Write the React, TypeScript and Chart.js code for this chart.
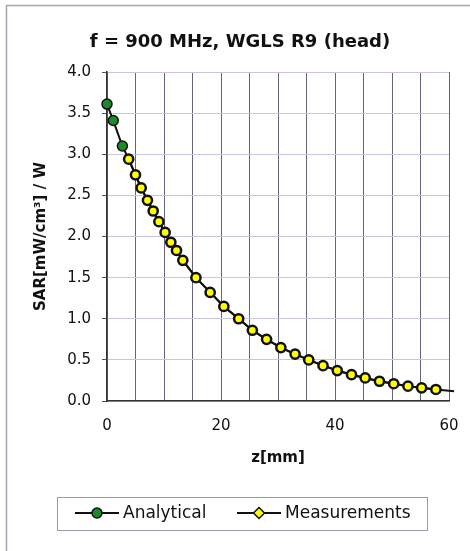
import React, { useEffect, useRef } from "react";
import { Chart, registerables } from "chart.js";

Chart.register(...registerables);

const chartTitle = "f = 900 MHz, WGLS R9 (head)";
const xAxisTitle = "z[mm]";
const yAxisTitle = "SAR[mW/cm³] / W";
const seriesNames = ["Analytical", "Measurements"];
const xTickLabels = [0, 20, 40, 60];

const zAnalytical = [0, 1.1, 2.7, 3.8, 5.0, 6.0, 7.1, 8.1, 9.1, 10.2, 11.2, 12.2, 13.3, 15.6, 18.1, 20.5, 23.1, 25.5, 28.0, 30.5, 33.0, 35.4, 37.9, 40.4, 42.9, 45.3, 47.8, 50.3, 52.8, 55.2, 57.7, 60.9];
const sarAnalytical = [3.61, 3.41, 3.10, 2.94, 2.75, 2.59, 2.44, 2.31, 2.18, 2.05, 1.93, 1.83, 1.71, 1.50, 1.32, 1.15, 1.00, 0.86, 0.75, 0.65, 0.57, 0.50, 0.43, 0.37, 0.32, 0.28, 0.24, 0.21, 0.18, 0.16, 0.14, 0.12];
const analyticalMarked = 3;

const zMeasured = [3.8, 5.0, 6.0, 7.1, 8.1, 9.1, 10.2, 11.2, 12.2, 13.3, 15.6, 18.1, 20.5, 23.1, 25.5, 28.0, 30.5, 33.0, 35.4, 37.9, 40.4, 42.9, 45.3, 47.8, 50.3, 52.8, 55.2, 57.7];
const sarMeasured = [2.94, 2.75, 2.59, 2.44, 2.31, 2.18, 2.05, 1.93, 1.83, 1.71, 1.50, 1.32, 1.15, 1.00, 0.86, 0.75, 0.65, 0.57, 0.50, 0.43, 0.37, 0.32, 0.28, 0.24, 0.21, 0.18, 0.16, 0.14];

const FONT = "'DejaVu Sans', sans-serif";
const GREEN = "#1c8a2c";
const YELLOW = "#ffff00";

const framePlugin = {
  id: "frame",
  beforeDraw(chart: any) {
    const ctx = chart.ctx;
    ctx.save();
    ctx.fillStyle = "#ffffff";
    ctx.fillRect(0, 0, chart.width, chart.height);
    ctx.strokeStyle = "#a4a4b4";
    ctx.lineWidth = 1.5;
    ctx.beginPath();
    ctx.moveTo(6.5, chart.height);
    ctx.lineTo(6.5, 5.5);
    ctx.lineTo(chart.width, 5.5);
    ctx.stroke();
    ctx.fillStyle = "#111";
    ctx.font = "bold 18px " + FONT;
    ctx.textAlign = "center";
    ctx.textBaseline = "middle";
    ctx.fillText(chartTitle, 240, 42);
    ctx.restore();
  },
};

const legendPlugin = {
  id: "boxLegend",
  afterDraw(chart: any) {
    const ctx = chart.ctx;
    const ds = chart.data.datasets;
    ctx.save();
    ctx.strokeStyle = "#9a9aae";
    ctx.lineWidth = 1;
    ctx.strokeRect(57.5, 497.5, 370, 33);
    const y = 513;
    const items = [
      { x0: 75, label: ds[0].label, kind: "circle" },
      { x0: 237, label: ds[1].label, kind: "diamond" },
    ];
    items.forEach((it, i) => {
      ctx.strokeStyle = "#111";
      ctx.lineWidth = 2;
      ctx.beginPath();
      ctx.moveTo(it.x0, y);
      ctx.lineTo(it.x0 + 44, y);
      ctx.stroke();
      const cx = it.x0 + 22;
      ctx.fillStyle = i === 0 ? GREEN : YELLOW;
      ctx.lineWidth = 1.5;
      ctx.beginPath();
      if (it.kind === "circle") {
        ctx.arc(cx, y, 5, 0, Math.PI * 2);
      } else {
        ctx.moveTo(cx, y - 5.5);
        ctx.lineTo(cx + 5.5, y);
        ctx.lineTo(cx, y + 5.5);
        ctx.lineTo(cx - 5.5, y);
        ctx.closePath();
      }
      ctx.fill();
      ctx.stroke();
      ctx.fillStyle = "#111";
      ctx.font = "17px " + FONT;
      ctx.textAlign = "left";
      ctx.textBaseline = "middle";
      ctx.fillText(it.label, it.x0 + 48, y + 1);
    });
    ctx.restore();
  },
};

export default function App() {
  const ref = useRef<HTMLCanvasElement | null>(null);

  useEffect(() => {
    if (!ref.current) return;
    const chart = new Chart(ref.current, {
      type: "scatter",
      data: {
        datasets: [
          {
            label: seriesNames[0],
            data: zAnalytical.map((z, i) => ({ x: z, y: sarAnalytical[i] })),
            showLine: true,
            clip: false,
            borderColor: "#111111",
            borderWidth: 2,
            pointBackgroundColor: GREEN,
            pointBorderColor: "#111111",
            pointBorderWidth: 1.5,
            pointRadius: (c: any) => (c.dataIndex < analyticalMarked ? 5 : 0),
            order: 2,
          },
          {
            label: seriesNames[1],
            data: zMeasured.map((z, i) => ({ x: z, y: sarMeasured[i] })),
            showLine: true,
            clip: false,
            borderColor: "#111111",
            borderWidth: 2,
            pointBackgroundColor: YELLOW,
            pointBorderColor: "#111111",
            pointBorderWidth: 2.5,
            pointRadius: 4.6,
            order: 1,
          },
        ],
      },
      options: {
        responsive: false,
        animation: false,
        layout: { padding: { left: 7, right: 21, top: 72, bottom: 80 } },
        plugins: {
          legend: { display: false },
          tooltip: { enabled: false },
          title: { display: false },
        },
        scales: {
          x: {
            type: "linear",
            min: 0,
            max: 60,
            afterFit: (s: any) => {
              s.height = 70;
              s.paddingLeft = 0;
              s.paddingRight = 0;
            },
            ticks: {
              stepSize: 5,
              autoSkip: false,
              maxRotation: 0,
              color: "#111",
              font: { family: FONT, size: 15 },
              padding: 16,
              callback: (v: any) => (xTickLabels.includes(Number(v)) ? String(v) : ""),
            },
            grid: { color: "#64647c", lineWidth: 1, drawTicks: false },
            border: { color: "#333", width: 1.5 },
            title: {
              display: true,
              text: xAxisTitle,
              color: "#111",
              font: { family: FONT, size: 15, weight: "bold" },
              padding: { top: 0, bottom: 4 },
            },
          },
          y: {
            type: "linear",
            min: 0,
            max: 4,
            afterFit: (s: any) => {
              s.width = 100;
              s.paddingTop = 0;
              s.paddingBottom = 0;
            },
            ticks: {
              stepSize: 0.5,
              color: "#111",
              font: { family: FONT, size: 15 },
              padding: 11,
              callback: (v: any) => Number(v).toFixed(1),
            },
            grid: { color: "#cac6e2", lineWidth: 1, tickLength: 5, tickColor: "#555" },
            border: { color: "#333", width: 1.5 },
            title: {
              display: true,
              text: yAxisTitle,
              color: "#111",
              font: { family: FONT, size: 15, weight: "bold" },
              padding: { top: 25, bottom: 0 },
            },
          },
        },
      },
      plugins: [framePlugin, legendPlugin],
    });
    return () => chart.destroy();
  }, []);

  return (
    <div style={{ position: "fixed", left: 0, top: 0, width: 470, height: 551 }}>
      <canvas ref={ref} width={470} height={551} style={{ display: "block" }} />
    </div>
  );
}
